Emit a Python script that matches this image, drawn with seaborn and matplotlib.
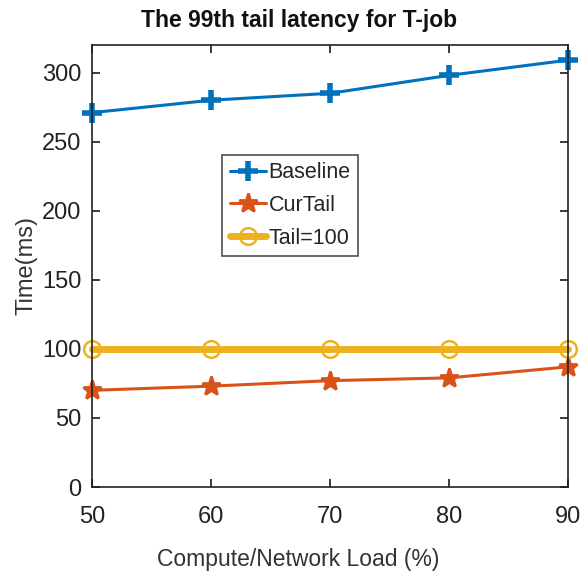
import matplotlib
matplotlib.use("Agg")
import matplotlib.pyplot as plt
import seaborn as sns
import pandas as pd

load = [50, 60, 70, 80, 90]
baseline = [271, 280, 285, 298, 309]
curtail = [70, 73, 77, 79, 87]
tail100 = [100, 100, 100, 100, 100]

sns.set_theme(style="ticks")
plt.rcParams['font.family'] = ['Liberation Sans Narrow', 'Liberation Sans', 'DejaVu Sans']

fig = plt.figure(figsize=(5.81, 5.76), dpi=100)
ax = fig.add_axes([0.159, 0.1545, 0.819, 0.7675])

series = [
    ("Baseline", baseline, "#0072BD", "+", 2.2, 15, 4.0),
    ("CurTail", curtail, "#D95319", "*", 2.2, 14, 2.0),
    ("Tail=100", tail100, "#EDB120", "o", 5, 12, 1.8),
]
for name, vals, color, marker, lw, ms, mew in series:
    df = pd.DataFrame({"load": load, "time": vals})
    sns.lineplot(data=df, x="load", y="time", ax=ax, color=color, lw=lw,
                 marker=marker, markersize=ms,
                 markerfacecolor=("none" if marker == "o" else color),
                 markeredgecolor=color, markeredgewidth=mew, label=name,
                 clip_on=False)

ax.set_xlim(50, 90)
ax.set_ylim(0, 320)
ax.set_xticks(load)
ax.set_yticks(range(0, 301, 50))
for s in ax.spines.values():
    s.set_visible(True)
    s.set_linewidth(1.2)
    s.set_color("#222222")
ax.tick_params(direction="in", length=6, labelsize=17, colors="#222222",
               top=True, right=True)
ax.tick_params(axis="x", pad=14)
ax.tick_params(axis="y", pad=8)
ax.set_xlabel("Compute/Network Load (%)", fontsize=16.5, color="#333333")
ax.xaxis.set_label_coords(0.433, -0.138)
ax.set_ylabel("Time(ms)", fontsize=17, color="#333333")
ax.yaxis.set_label_coords(-0.115, 0.5)
fig.text(299 / 581, 1 - 20 / 576, "The 99th tail latency for T-job",
         ha="center", va="center", fontsize=16.5, color="#111111",
         fontweight="semibold")

leg = ax.legend(loc="upper left", bbox_to_anchor=(0.273, 0.752), fontsize=15.5,
                frameon=True, fancybox=False, edgecolor="#222222",
                handlelength=1.7, handletextpad=0.1, borderpad=0.35,
                labelspacing=0.55, borderaxespad=0)
leg.get_frame().set_linewidth(1.2)

fig.savefig("out.png", dpi=100)
